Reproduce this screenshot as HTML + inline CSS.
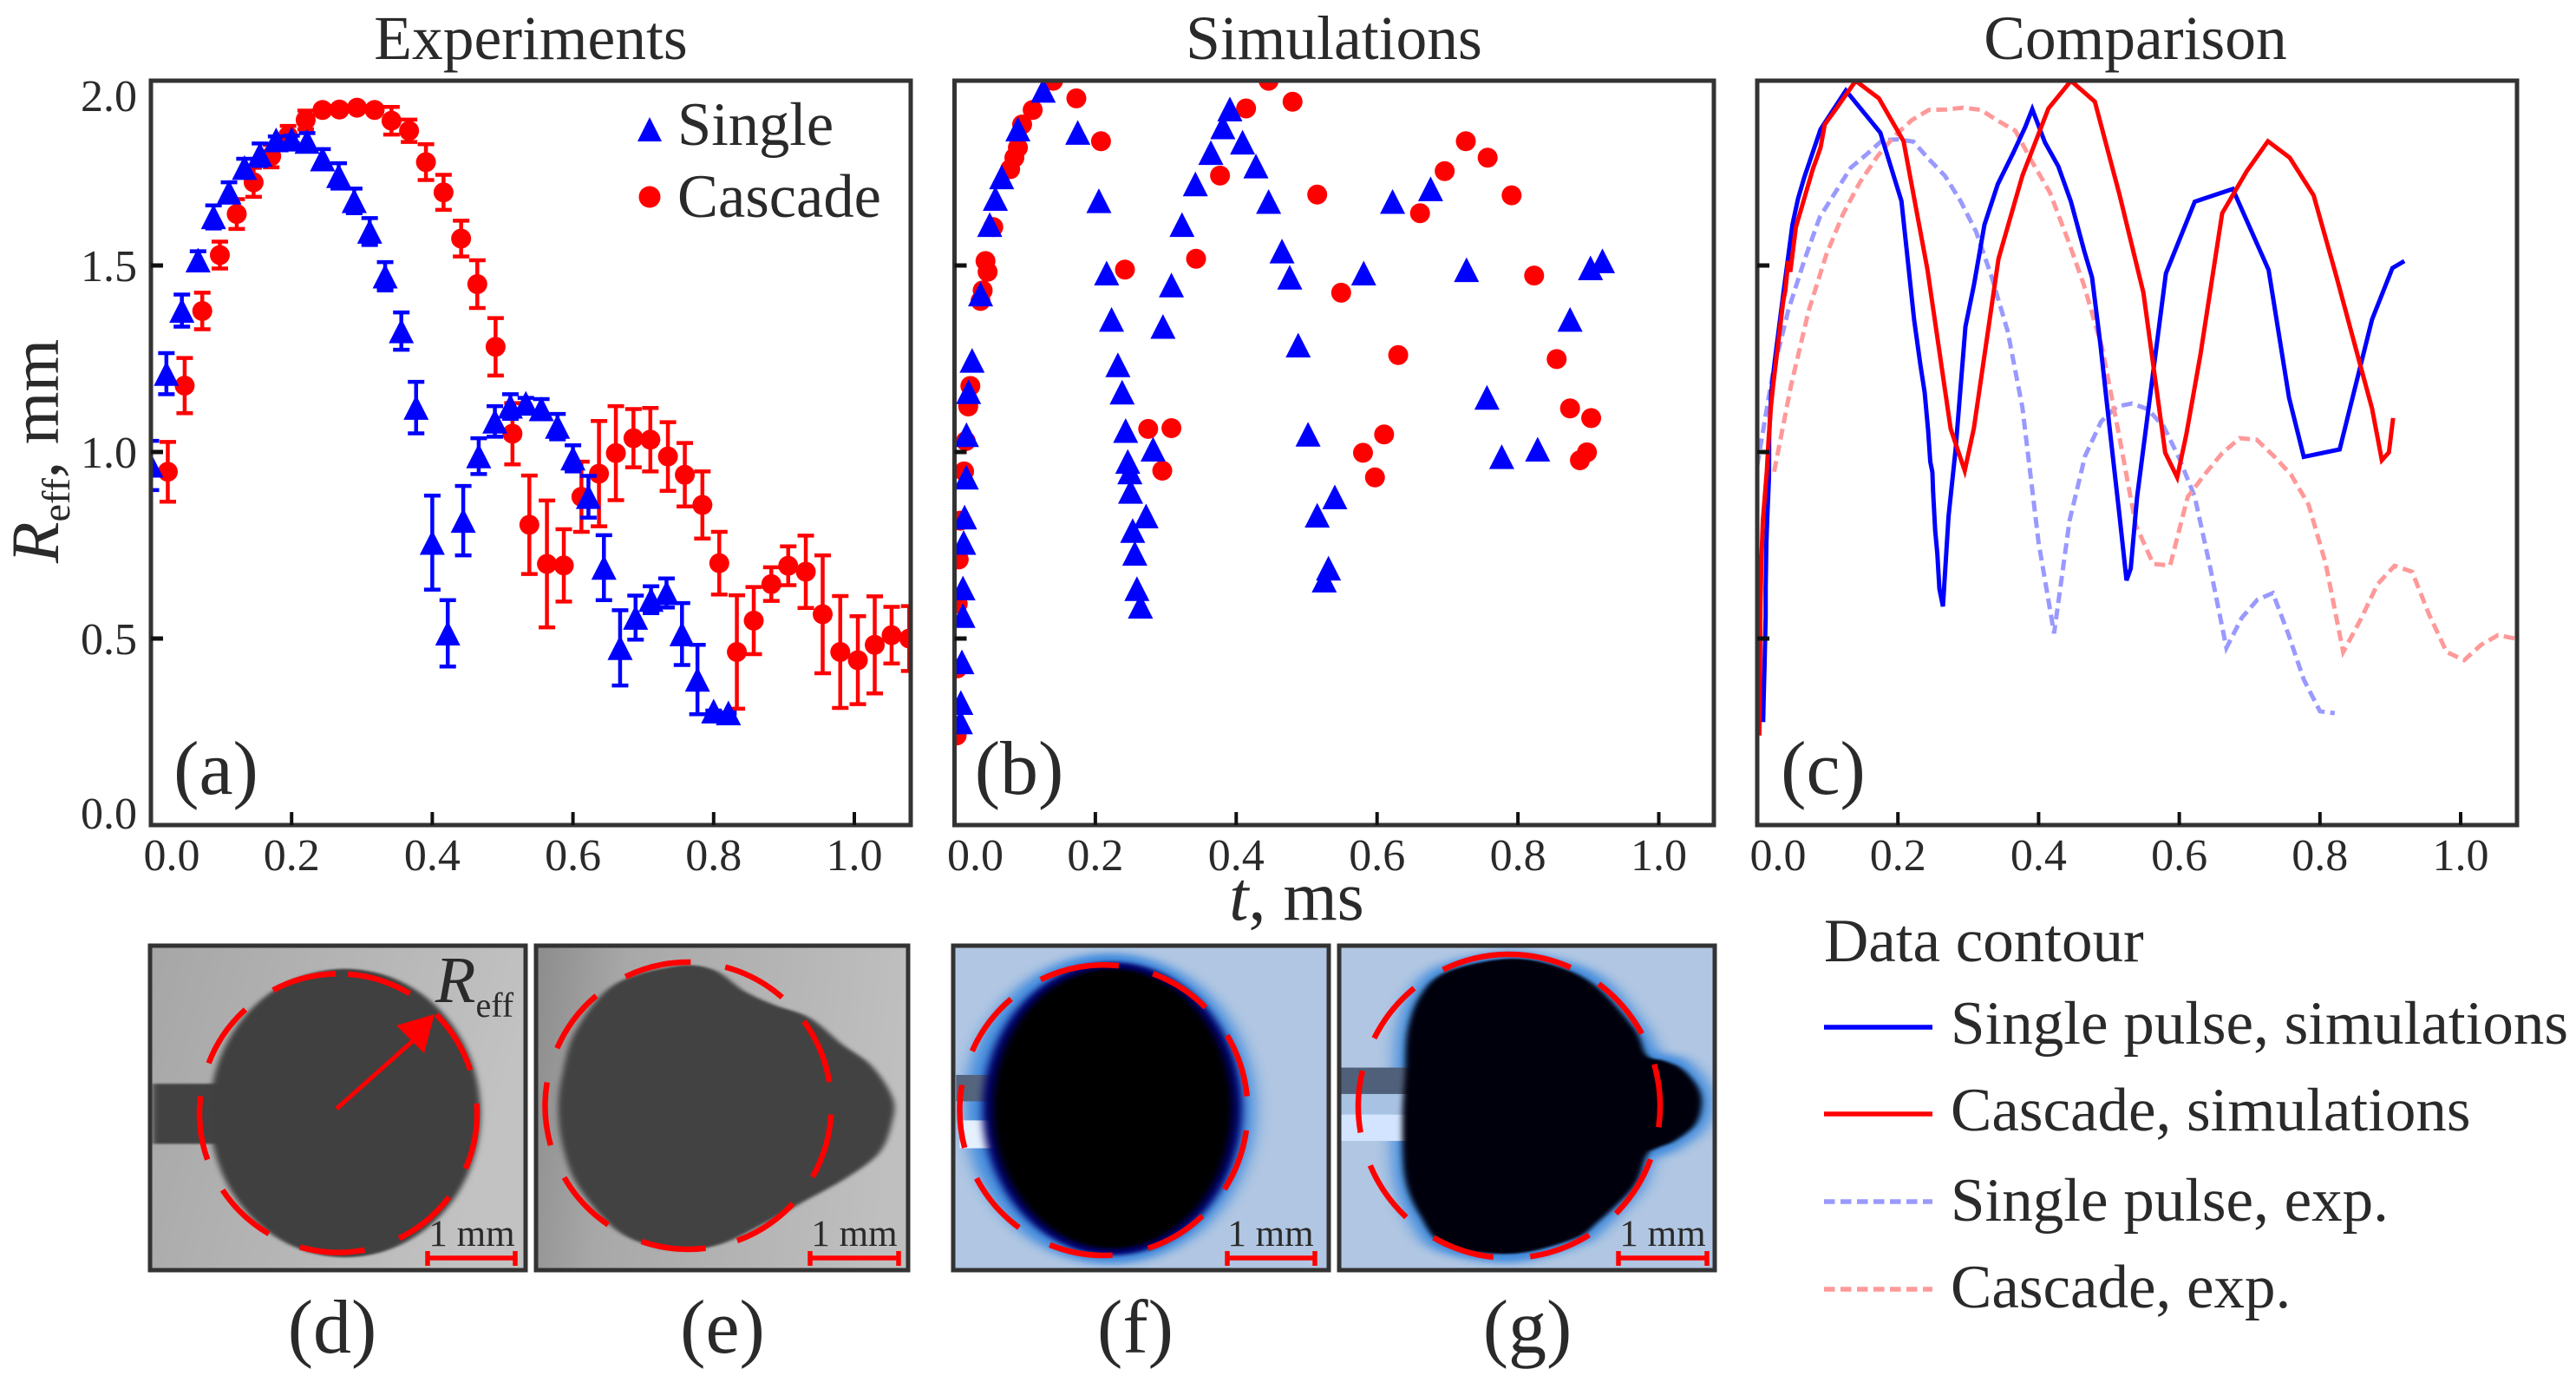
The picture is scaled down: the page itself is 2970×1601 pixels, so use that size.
<!DOCTYPE html>
<html lang="en">
<head>
<meta charset="utf-8">
<title>Effective radius: experiments and simulations</title>
<style>
html,body{margin:0;padding:0;background:#fff;}
svg{display:block;}
text{font-family:"Liberation Serif","DejaVu Serif",serif;fill:#2a2a2a;}
</style>
</head>
<body>
<svg id="figure" xmlns="http://www.w3.org/2000/svg" width="2970" height="1601" viewBox="0 0 2970 1601">
<defs>
  <clipPath id="clip-a"><rect x="174" y="93" width="876" height="858"/></clipPath>
  <clipPath id="clip-b"><rect x="1100.5" y="93" width="875.5" height="858"/></clipPath>
  <clipPath id="clip-c"><rect x="2026" y="93" width="876" height="858"/></clipPath>
  <clipPath id="clip-d"><rect x="173" y="1090" width="433" height="374"/></clipPath>
  <clipPath id="clip-e"><rect x="618" y="1090" width="429" height="374"/></clipPath>
  <clipPath id="clip-f"><rect x="1099" y="1090" width="433" height="374"/></clipPath>
  <clipPath id="clip-g"><rect x="1544" y="1090" width="433" height="374"/></clipPath>
  <linearGradient id="grad-d" x1="0" y1="0" x2="1" y2="0.25"><stop offset="0" stop-color="#a6a6a6"/><stop offset="1" stop-color="#c2c2c2"/></linearGradient>
  <linearGradient id="grad-e" x1="0" y1="0" x2="1" y2="0.1"><stop offset="0" stop-color="#8c8c8c"/><stop offset="0.25" stop-color="#a8a8a8"/><stop offset="1" stop-color="#bfbfbf"/></linearGradient>
  <filter id="soft" x="-10%" y="-10%" width="120%" height="120%"><feGaussianBlur stdDeviation="6 3"/></filter>
  <filter id="halo" x="-20%" y="-20%" width="140%" height="140%"><feGaussianBlur stdDeviation="16 12"/></filter>
  <filter id="edge" x="-10%" y="-10%" width="120%" height="120%"><feGaussianBlur stdDeviation="8 6"/></filter>
</defs>

<rect x="0" y="0" width="2970" height="1601" fill="#ffffff"/>

<text x="612" y="68" font-size="71.5" text-anchor="middle">Experiments</text>
<text x="1538" y="68" font-size="71.5" text-anchor="middle">Simulations</text>
<text x="2462" y="68" font-size="71.5" text-anchor="middle">Comparison</text>

<text transform="translate(67,520) rotate(-90)" font-size="78" text-anchor="middle"><tspan font-style="italic">R</tspan><tspan font-size="46" dy="13">eff</tspan><tspan dy="-13">, mm</tspan></text>
<text x="1495" y="1060" font-size="80" text-anchor="middle"><tspan font-style="italic">t</tspan>, ms</text>

<g id="plot-layer"></g>

<!-- panel labels -->
<text x="249" y="915" font-size="88" text-anchor="middle">(a)</text>
<text x="1175" y="915" font-size="88" text-anchor="middle">(b)</text>
<text x="2102" y="915" font-size="88" text-anchor="middle">(c)</text>

<!-- legend inside panel a -->
<g>
  <path d="M749 135 L763 163 L735 163 Z" fill="#0000ff"/>
  <text x="781" y="167" font-size="70.5">Single</text>
  <circle cx="749" cy="227" r="12.5" fill="#ff0000"/>
  <text x="781" y="250" font-size="70.5">Cascade</text>
</g>

<!-- photo panel d -->
<g>
  <g clip-path="url(#clip-d)">
    <rect x="173" y="1090" width="433" height="374" fill="url(#grad-d)"/>
    <g transform="translate(150,1070) scale(0.574,0.338)">
      <rect x="45" y="530" width="160" height="205" fill="#424242" filter="url(#soft)"/>
      <ellipse cx="432" cy="630" rx="272" ry="492" fill="#404040" filter="url(#soft)"/>
    </g>
  </g>
  <rect x="173" y="1090" width="433" height="374" fill="none" stroke="#333" stroke-width="5"/>
  <g id="arcs-d"></g>
  <line x1="388" y1="1278" x2="478" y2="1198" stroke="#ff0000" stroke-width="5"/>
  <path d="M501 1169 L457 1182 L489 1214 Z" fill="#ff0000"/>
  <text x="502" y="1155" font-size="76"><tspan font-style="italic">R</tspan><tspan font-size="40" dy="17">eff</tspan></text>
  <text x="544" y="1436" font-size="43" text-anchor="middle">1 mm</text>
  <path d="M493 1442 V1459 M594 1442 V1459 M493 1450 H594" stroke="#ff0000" stroke-width="5.5" fill="none"/>
</g>

<!-- photo panel e -->
<g>
  <g clip-path="url(#clip-e)">
    <rect x="618" y="1090" width="429" height="374" fill="url(#grad-e)"/>
    <g transform="translate(150,1070) scale(0.574,0.338)">
      <path id="blob-e" d="" fill="#434343" filter="url(#soft)"/>
    </g>
  </g>
  <rect x="618" y="1090" width="429" height="374" fill="none" stroke="#333" stroke-width="5"/>
  <g id="arcs-e"></g>
  <text x="985" y="1436" font-size="43" text-anchor="middle">1 mm</text>
  <path d="M934 1442 V1459 M1036 1442 V1459 M934 1450 H1036" stroke="#ff0000" stroke-width="5.5" fill="none"/>
</g>

<!-- simulation panel f -->
<g>
  <g clip-path="url(#clip-f)">
    <rect x="1099" y="1090" width="433" height="374" fill="#b1c6e2"/>
    <g transform="translate(1080,1070) scale(0.5868,0.338)">
      <ellipse cx="340" cy="615" rx="285" ry="530" fill="#1a78dc" opacity="0.75" filter="url(#halo)"/>
      <rect x="38" y="500" width="90" height="90" fill="#55657e"/>
      <rect x="45" y="655" width="70" height="95" fill="#e6f1ff"/>
      <ellipse cx="345" cy="615" rx="255" ry="500" fill="#00006a" filter="url(#edge)"/>
      <ellipse cx="345" cy="615" rx="235" ry="478" fill="#000000" filter="url(#edge)"/>
    </g>
  </g>
  <rect x="1099" y="1090" width="433" height="374" fill="none" stroke="#333" stroke-width="5"/>
  <g id="arcs-f"></g>
  <text x="1465" y="1436" font-size="43" text-anchor="middle">1 mm</text>
  <path d="M1415 1442 V1459 M1516 1442 V1459 M1415 1450 H1516" stroke="#ff0000" stroke-width="5.5" fill="none"/>
</g>

<!-- simulation panel g -->
<g>
  <g clip-path="url(#clip-g)">
    <rect x="1544" y="1090" width="433" height="374" fill="#b1c6e2"/>
    <g transform="translate(1080,1070) scale(0.5868,0.338)">
      <path id="halo-g" d="" fill="#1a78dc" opacity="0.75" filter="url(#halo)"/>
      <rect x="795" y="475" width="140" height="90" fill="#50607a"/>
      <rect x="795" y="565" width="140" height="70" fill="#a8c2e4"/>
      <rect x="795" y="635" width="130" height="90" fill="#d2e4ff"/>
      <path id="blob-g" d="" fill="#000008" filter="url(#soft)"/>
    </g>
  </g>
  <rect x="1544" y="1090" width="433" height="374" fill="none" stroke="#333" stroke-width="5"/>
  <g id="arcs-g"></g>
  <text x="1917" y="1436" font-size="43" text-anchor="middle">1 mm</text>
  <path d="M1866 1442 V1459 M1968 1442 V1459 M1866 1450 H1968" stroke="#ff0000" stroke-width="5.5" fill="none"/>
</g>

<text x="383" y="1559" font-size="88" text-anchor="middle">(d)</text>
<text x="833" y="1559" font-size="88" text-anchor="middle">(e)</text>
<text x="1309" y="1559" font-size="88" text-anchor="middle">(f)</text>
<text x="1761" y="1559" font-size="88" text-anchor="middle">(g)</text>

<!-- line legend -->
<g>
  <text x="2103" y="1108" font-size="71">Data contour</text>
  <line x1="2103" y1="1184" x2="2228" y2="1184" stroke="#0000ff" stroke-width="5.5"/>
  <text x="2249" y="1203" font-size="71">Single pulse, simulations</text>
  <line x1="2103" y1="1284" x2="2228" y2="1284" stroke="#ff0000" stroke-width="5.5"/>
  <text x="2249" y="1303" font-size="71">Cascade, simulations</text>
  <line x1="2103" y1="1385" x2="2228" y2="1385" stroke="#9999ff" stroke-width="5.5" stroke-dasharray="12.5 6.5"/>
  <text x="2249" y="1407" font-size="71">Single pulse, exp.</text>
  <line x1="2103" y1="1486" x2="2228" y2="1486" stroke="#ff9999" stroke-width="5.5" stroke-dasharray="12.5 6.5"/>
  <text x="2249" y="1507" font-size="71">Cascade, exp.</text>
</g>
</svg>

<script>
// ---- chart data ----
const xTickValues = [0, 0.2, 0.4, 0.6, 0.8, 1.0];
const xTickLabels = ["0.0", "0.2", "0.4", "0.6", "0.8", "1.0"];
const yTickValues = [0, 0.5, 1.0, 1.5, 2.0];
const yTickLabels = ["0.0", "0.5", "1.0", "1.5", "2.0"];

const expSingleT = [0,.022,.044,.067,.089,.111,.133,.155,.178,.2,.222,.244,.267,.289,.311,.333,.356,.377,.4,.422,.444,.466,.489,.511,.533,.555,.578,.6,.622,.644,.667,.689,.711,.733,.755,.777,.8,.821];
const expSingleR = [.964,1.21,1.379,1.514,1.63,1.696,1.762,1.797,1.836,1.838,1.832,1.785,1.74,1.673,1.591,1.471,1.324,1.119,.757,.514,.816,.989,1.082,1.122,1.13,1.115,1.068,.983,.88,.69,.475,.556,.604,.622,.512,.39,.305,.30];
const expSingleErr = [.066,.055,.043,.024,.031,.027,.024,.03,.01,.01,.023,.027,.034,.033,.036,.038,.05,.069,.126,.089,.093,.048,.041,.033,.015,.027,.034,.035,.056,.087,.101,.059,.036,.039,.083,.093,.002,.002];

const expCascadeT = [.024,.048,.073,.098,.122,.146,.171,.195,.22,.244,.268,.293,.318,.342,.367,.391,.416,.441,.464,.49,.514,.538,.563,.587,.612,.637,.661,.686,.71,.735,.759,.784,.808,.833,.857,.882,.906,.931,.955,.98,1.005,1.029,1.053,1.078];
const expCascadeR = [.947,1.178,1.378,1.528,1.638,1.723,1.793,1.847,1.89,1.917,1.918,1.923,1.917,1.888,1.861,1.777,1.696,1.572,1.45,1.282,1.049,.805,.70,.696,.88,.942,.997,1.037,1.033,.988,.939,.858,.702,.464,.548,.646,.695,.679,.565,.464,.442,.483,.509,.50];
const expCascadeErr = [.08,.074,.049,.036,.04,.039,.03,.027,.025,.01,.01,.01,.01,.037,.03,.048,.047,.048,.064,.077,.082,.132,.17,.097,.094,.141,.126,.078,.085,.092,.085,.09,.084,.152,.09,.045,.052,.097,.158,.15,.118,.13,.076,.087];

const simSingleT = [.0084,.009,.0105,.012,.012,.013,.0143,.0167,.017,.02,.025,.037,.05,.058,.067,.09,.126,.175,.205,.216,.223,.232,.238,.243,.246,.249,.25,.253,.256,.259,.264,.272,.282,.296,.308,.323,.342,.364,.381,.391,.409,.428,.446,.465,.476,.488,.502,.515,.525,.531,.54,.581,.622,.676,.727,.756,.777,.828,.874,.903,.92];
const simSingleR = [.276,.328,.437,.561,.635,.757,.825,.932,1.046,1.161,1.245,1.423,1.609,1.679,1.737,1.865,1.969,1.856,1.673,1.479,1.355,1.233,1.16,1.057,.974,.946,.894,.789,.728,.633,.586,.828,1.007,1.336,1.447,1.609,1.718,1.802,1.871,1.919,1.83,1.766,1.671,1.538,1.468,1.286,1.047,.83,.656,.688,.879,1.479,1.671,1.705,1.488,1.146,.987,1.007,1.355,1.493,1.512];

const simCascadeT = [.003,.004,.0046,.006,.008,.0136,.016,.0195,.0225,.037,.04,.044,.047,.055,.079,.085,.09,.096,.111,.14,.173,.208,.242,.275,.295,.308,.343,.377,.414,.446,.48,.515,.549,.58,.597,.61,.63,.661,.696,.726,.757,.791,.823,.855,.874,.888,.898,.904];
const simCascadeR = [.24,.42,.593,.712,.816,.948,1.029,1.122,1.177,1.405,1.433,1.512,1.483,1.603,1.758,1.789,1.816,1.878,1.917,1.995,1.948,1.833,1.489,1.062,.95,1.064,1.518,1.741,1.921,1.995,1.939,1.69,1.427,.998,.932,1.047,1.26,1.64,1.753,1.833,1.789,1.688,1.473,1.249,1.117,.978,.999,1.091];

// ---- fit-circle dash angles for the photo panels (degrees, clockwise from east) ----
const dashAnglesD = [[-118,-91],[-86,-59],[-45,-18],[-4,23.5],[37,64],[79,106],[120,146.5],[160.5,187],[201,228]];
const dashAnglesE = [[-116,-89],[-75,-49],[-36,-9.5],[3.5,29.7],[43,70],[83,109],[124,150],[164,189.4],[203.6,230]];
const dashAnglesF = [[-116,-84],[-70,-45],[-31,-5.5],[8,33],[46.7,72],[86.5,112],[126,152],[165,190],[204,230]];
const dashAnglesG = [[-116,-66],[-53.6,-28.5],[-16,8],[20.5,45],[58,82],[96,120],[133,157],[170,193.5],[206.6,231]];

// ---- droplet outlines for the photo panels ----
const outlineE = [[868,500],[895,350],[970,195],[1090,130],[1170,140],[1235,215],[1295,262],[1365,305],[1430,395],[1490,470],[1532,580],[1530,665],[1505,765],[1440,850],[1350,935],[1270,1010],[1190,1075],[1110,1098],[1040,1080],[970,1020],[900,880],[870,750],[860,620]];
const outlineG = [[920,500],[925,350],[950,230],[1000,150],[1110,105],[1200,120],[1290,190],[1370,340],[1395,432],[1430,452],[1465,480],[1495,540],[1503,600],[1490,670],[1450,725],[1415,750],[1395,775],[1370,880],[1300,1000],[1250,1060],[1130,1110],[1000,1080],[950,980],[920,850],[915,650]];
const outlineHaloG = [[900,500],[905,350],[930,220],[985,130],[1110,80],[1210,100],[1310,170],[1390,330],[1420,420],[1470,445],[1515,530],[1525,610],[1505,690],[1450,760],[1410,790],[1385,890],[1315,1020],[1265,1080],[1130,1140],[985,1100],[930,1000],[900,860],[895,650]];

// ---- axis functions ----
const PANEL_A = {key:'a', left:174, right:1050, unit:811};
const PANEL_B = {key:'b', left:1100.5, right:1976, unit:812};
const PANEL_C = {key:'c', left:2026, right:2902, unit:811};
const AXIS_TOP = 93, AXIS_BOTTOM = 951, Y_UNIT = 430;
function xPos(panel, t){ return panel.left + t * panel.unit; }
function yPos(r){ return AXIS_BOTTOM - r * Y_UNIT; }

const NS = 'http://www.w3.org/2000/svg';
const layer = document.getElementById('plot-layer');
function make(tag, attrs, parent){
  const el = document.createElementNS(NS, tag);
  for (const k in attrs) el.setAttribute(k, attrs[k]);
  parent.appendChild(el);
  return el;
}

function smoothClosed(pts){
  const n = pts.length;
  let d = 'M' + pts[0][0] + ' ' + pts[0][1];
  for (let i = 0; i < n; i++) {
    const p0 = pts[(i - 1 + n) % n], p1 = pts[i], p2 = pts[(i + 1) % n], p3 = pts[(i + 2) % n];
    d += 'C' + (p1[0] + (p2[0] - p0[0]) / 6) + ' ' + (p1[1] + (p2[1] - p0[1]) / 6) + ' ' +
         (p2[0] - (p3[0] - p1[0]) / 6) + ' ' + (p2[1] - (p3[1] - p1[1]) / 6) + ' ' + p2[0] + ' ' + p2[1];
  }
  return d + 'Z';
}
document.getElementById('blob-e').setAttribute('d', smoothClosed(outlineE));
document.getElementById('blob-g').setAttribute('d', smoothClosed(outlineG));
document.getElementById('halo-g').setAttribute('d', smoothClosed(outlineHaloG));

function drawErrorSeries(parent, panel, ts, rs, errs, color, label){
  ts.forEach(function(t, i){
    const x = xPos(panel, t);
    const top = yPos(rs[i] + errs[i]);
    const bottom = yPos(rs[i] - errs[i]);
    const d = 'M' + x + ' ' + top + 'V' + bottom + 'M' + (x-9.5) + ' ' + top + 'H' + (x+9.5) + 'M' + (x-9.5) + ' ' + bottom + 'H' + (x+9.5);
    const bar = make('path', {d: d, stroke: color, 'stroke-width': 4.5, fill: 'none'}, parent);
    
    
  });
}
function drawTriangles(parent, panel, ts, rs, label){
  ts.forEach(function(t, i){
    const x = xPos(panel, t), y = yPos(rs[i]);
    const d = 'M' + x + ' ' + (y-14.5) + 'L' + (x+14.5) + ' ' + (y+14) + 'L' + (x-14.5) + ' ' + (y+14) + 'Z';
    const tri = make('path', {d: d, fill: '#0000ff'}, parent);
    
    
  });
}
function drawCircles(parent, panel, ts, rs, label){
  ts.forEach(function(t, i){
    const c = make('circle', {cx: xPos(panel, t), cy: yPos(rs[i]), r: 11.5, fill: '#ff0000'}, parent);
    
    
  });
}
function drawLine(parent, panel, ts, rs, color, dash, label){
  const pts = ts.map(function(t, i){ return xPos(panel, t) + ',' + yPos(rs[i]); }).join(' ');
  const attrs = {points: pts, fill: 'none', stroke: color, 'stroke-width': 5, 'stroke-linejoin': 'miter'};
  if (dash) attrs['stroke-dasharray'] = dash;
  const line = make('polyline', attrs, parent);
  
  
}
function drawAxes(panel, showY){
  const frame = make('rect', {x: panel.left, y: AXIS_TOP, width: panel.right - panel.left, height: AXIS_BOTTOM - AXIS_TOP, fill: 'none', stroke: '#333', 'stroke-width': 5}, layer);
  
  
  xTickValues.forEach(function(v, i){
    const x = xPos(panel, v);
    if (v > 0) {
      const tick = make('line', {x1: x, x2: x, y1: AXIS_BOTTOM - 15, y2: AXIS_BOTTOM, stroke: '#111', 'stroke-width': 4}, layer);
      
      
    }
    const lx = v === 0 ? x + 24 : x;
    const lab = make('text', {x: lx, y: 1003, 'font-size': 52, 'text-anchor': 'middle'}, layer);
    lab.textContent = xTickLabels[i];
    
    
  });
  yTickValues.forEach(function(v, i){
    const y = yPos(v);
    if (v > 0 && v < 2) {
      const tick = make('line', {x1: panel.left, x2: panel.left + 14, y1: y, y2: y, stroke: '#111', 'stroke-width': 5}, layer);
      
      
    }
    if (showY) {
      const shift = v === 0 ? 4 : (v === 2 ? 37 : 18);
      const lab = make('text', {x: panel.left - 16, y: y + shift, 'font-size': 52, 'text-anchor': 'end'}, layer);
      lab.textContent = yTickLabels[i];
      
      
    }
  });
}
function drawArcs(hostId, cx, cy, rx, ry, angles){
  const host = document.getElementById(hostId);
  angles.forEach(function(pair){
    const a0 = pair[0] * Math.PI / 180, a1 = pair[1] * Math.PI / 180;
    const d = 'M' + (cx + rx*Math.cos(a0)) + ' ' + (cy + ry*Math.sin(a0)) + 'A' + rx + ' ' + ry + ' 0 0 1 ' + (cx + rx*Math.cos(a1)) + ' ' + (cy + ry*Math.sin(a1));
    const arc = make('path', {d: d, fill: 'none', stroke: '#ff0000', 'stroke-width': 6.5}, host);
    
    
  });
}

// panel a
const groupA = make('g', {'clip-path': 'url(#clip-a)'}, layer);


drawErrorSeries(groupA, PANEL_A, expCascadeT, expCascadeR, expCascadeErr, '#ff0000', 'cascade-exp');
drawCircles(groupA, PANEL_A, expCascadeT, expCascadeR, 'cascade-exp');
drawErrorSeries(groupA, PANEL_A, expSingleT, expSingleR, expSingleErr, '#0000ff', 'single-exp');
drawTriangles(groupA, PANEL_A, expSingleT, expSingleR, 'single-exp');
drawAxes(PANEL_A, true);

// panel b
const groupB = make('g', {'clip-path': 'url(#clip-b)'}, layer);


drawCircles(groupB, PANEL_B, simCascadeT, simCascadeR, 'cascade-sim');
drawTriangles(groupB, PANEL_B, simSingleT, simSingleR, 'single-sim');
drawAxes(PANEL_B, false);

// panel c
const groupC = make('g', {'clip-path': 'url(#clip-c)'}, layer);


drawLine(groupC, PANEL_C, expSingleT, expSingleR, '#9999ff', '12.5 6.5', 'single-exp');
drawLine(groupC, PANEL_C, expCascadeT, expCascadeR, '#ff9999', '12.5 6.5', 'cascade-exp');
drawLine(groupC, PANEL_C, simSingleT, simSingleR, '#0000ff', null, 'single-sim');
drawLine(groupC, PANEL_C, simCascadeT, simCascadeR, '#ff0000', null, 'cascade-sim');
drawAxes(PANEL_C, false);

// photo overlays
drawArcs('arcs-d', 390, 1283, 160, 160.6, dashAnglesD);
drawArcs('arcs-e', 793.5, 1274.5, 165, 165.5, dashAnglesE);
drawArcs('arcs-f', 1272.5, 1279.6, 166, 167.4, dashAnglesF);
drawArcs('arcs-g', 1740, 1275, 174, 175, dashAnglesG);
</script>
</body>
</html>
